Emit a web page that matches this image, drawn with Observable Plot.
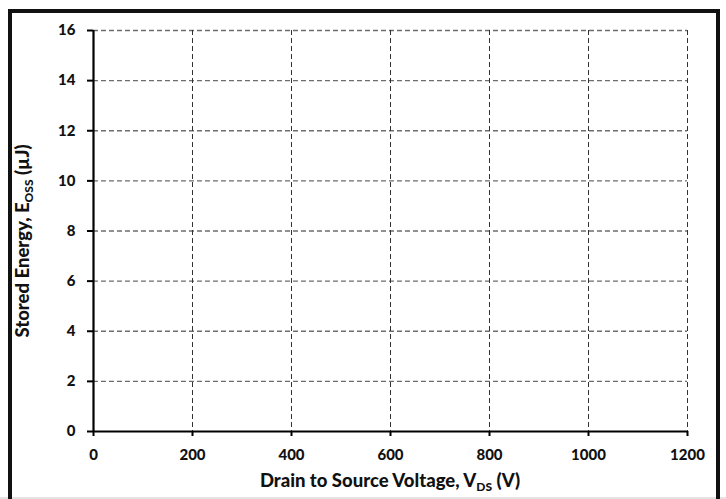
<!DOCTYPE html>
<html>
<head>
<meta charset="utf-8">
<script src="https://cdn.jsdelivr.net/npm/d3@7"></script>
<script src="https://cdn.jsdelivr.net/npm/@observablehq/plot@0.6"></script>
<style>
  html, body { margin: 0; padding: 0; background: #fff; }
  #wrap { position: relative; width: 726px; height: 499px; overflow: hidden; }
  #border { position: absolute; left: 8px; top: 9px; width: 704px; height: 520px;
            border: 4px solid #111; box-sizing: content-box; pointer-events: none; }
  #base { position: absolute; left: 0; top: 497px; width: 726px; height: 2px; background: #e4e4e4; }
  #chart { position: absolute; left: 0; top: 0; }
  svg text { font-family: Lato, "Open Sans", sans-serif; }
</style>
</head>
<body>
<div id="wrap">
  <div id="chart"></div>
  <div id="base"></div>
  <div id="border"></div>
</div>
<script>
// Axis ticks for the stored-energy chart (no curve plotted)
const voltageTicks = [0, 200, 400, 600, 800, 1000, 1200];
const energyTicks = [0, 2, 4, 6, 8, 10, 12, 14, 16];
const xTitle = ["Drain to Source Voltage, V", "DS", " (V)"];
const yTitle = ["Stored Energy, E", "OSS", " (µJ)"];

const W = 726, H = 499;
const chart = Plot.plot({
  width: W,
  height: H,
  marginLeft: 93,
  marginRight: 39,
  marginTop: 30,
  marginBottom: 68,
  style: { background: "transparent", fontFamily: "Lato, sans-serif" },
  x: { domain: [0, 1200] },
  y: { domain: [0, 16] },
  marks: [
    // dashed grid
    Plot.ruleY(energyTicks.filter(d => d > 0), { stroke: "#6e6e6e", strokeWidth: 1.3, strokeDasharray: "5,3" }),
    Plot.ruleX(voltageTicks.filter(d => d > 0), { stroke: "#333", strokeWidth: 1, strokeDasharray: "5,3" }),
    // solid axis lines
    Plot.ruleX([0], { stroke: "#000", strokeWidth: 2.2 }),
    Plot.ruleY([0], { stroke: "#000", strokeWidth: 2.2 }),
    Plot.axisX({ ticks: voltageTicks, tickSize: 5, tickPadding: 13, tickFormat: d => String(d),
      fontSize: 15, fontWeight: 900, fill: "#111", stroke: "#000", strokeWidth: 2, label: null }),
    Plot.axisY({ ticks: energyTicks, tickSize: 6, tickPadding: 12, tickFormat: d => String(d),
      fontSize: 15, fontWeight: 900, fill: "#111", stroke: "#000", strokeWidth: 2, label: null })
  ]
});
document.getElementById("chart").appendChild(chart);

// Axis titles with subscripts
const svg = d3.select(chart);
function titled(parts, attrs) {
  const t = svg.append("text")
    .attr("text-anchor", "middle")
    .attr("font-weight", 900)
    .attr("font-size", 18.5)
    .attr("fill", "#111");
  for (const [k, v] of Object.entries(attrs)) t.attr(k, v);
  t.append("tspan").text(parts[0]);
  t.append("tspan").attr("font-size", 12).attr("dy", 4).text(parts[1]);
  t.append("tspan").attr("dy", -4).text(parts[2]);
  return t;
}
titled(xTitle, { x: 390, y: 487 });
titled(yTitle, { transform: "translate(29,241) rotate(-90)" });
</script>
</body>
</html>
